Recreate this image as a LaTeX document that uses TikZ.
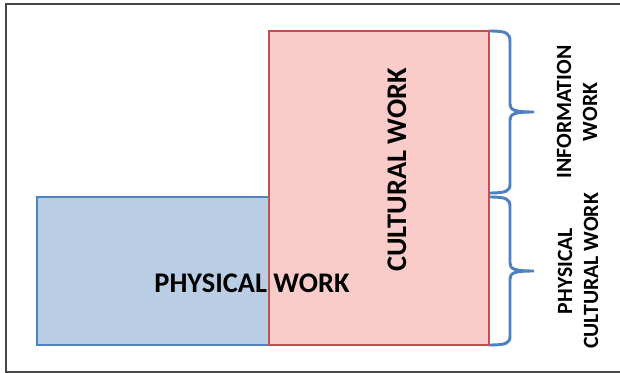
\documentclass[tikz,border=0pt]{standalone}
\usepackage{fontspec}
\setmainfont{Carlito}
\definecolor{physblue}{RGB}{185,205,229}
\definecolor{physedge}{RGB}{79,129,189}
\definecolor{cultred}{RGB}{248,194,191}
\definecolor{cultedge}{RGB}{192,80,77}
\definecolor{braceblue}{RGB}{79,129,189}
\definecolor{framegray}{RGB}{70,70,70}
\tikzset{
  bigtext/.style={font=\fontsize{21.3}{25}\selectfont\bfseries, inner sep=0pt},
  sidetext/.style={font=\fontsize{16.3}{19.5}\selectfont\bfseries, inner sep=0pt, rotate=90, align=center},
  bracket/.style={draw=braceblue, line width=2.2pt}
}
\begin{document}
\begin{tikzpicture}[x=0.75pt, y=-0.75pt]

% Bounding box and outer frame
\useasboundingbox (0, 0) rectangle (620, 373);
\draw[framegray, line width=1.1pt] (640, 4) -- (6, 4) -- (6, 372) -- (640, 372);

% Physical work block
\draw[physedge, fill=physblue, line width=0.8pt] (37, 197) rectangle (269, 345);

% Cultural work block
\draw[cultedge, fill=cultred, fill opacity=0.85, line width=1.1pt] (269, 31) rectangle (489, 345);

% Block labels
\node[bigtext] (physical) at (252, 283) {PHYSICAL WORK};
\node[bigtext, rotate=90] (cultural) at (397, 170) {CULTURAL WORK};

% Braces on the right
\coordinate (infotop) at (489, 31);
\coordinate (infotip) at (534, 112);
\coordinate (infobot) at (489, 193);
\draw[bracket] (infotop) .. controls (507, 31) and (510, 33) .. (510, 42) -- (510, 104)
  .. controls (510, 110) and (514, 112) .. (infotip)
  .. controls (514, 112) and (510, 114) .. (510, 120) -- (510, 184)
  .. controls (510, 191) and (507, 193) .. (infobot);

\coordinate (pcwtop) at (489, 197);
\coordinate (pcwtip) at (534, 271);
\coordinate (pcwbot) at (489, 345);
\draw[bracket] (pcwtop) .. controls (507, 197) and (510, 199) .. (510, 207) -- (510, 263)
  .. controls (510, 269) and (514, 271) .. (pcwtip)
  .. controls (514, 271) and (510, 273) .. (510, 279) -- (510, 336)
  .. controls (510, 343) and (507, 345) .. (pcwbot);

% Side labels
\node[sidetext] (infowork) at (577, 112) {INFORMATION\\WORK};
\node[sidetext] (pcwork) at (578, 271) {PHYSICAL\\CULTURAL WORK};

\end{tikzpicture}
\end{document}
